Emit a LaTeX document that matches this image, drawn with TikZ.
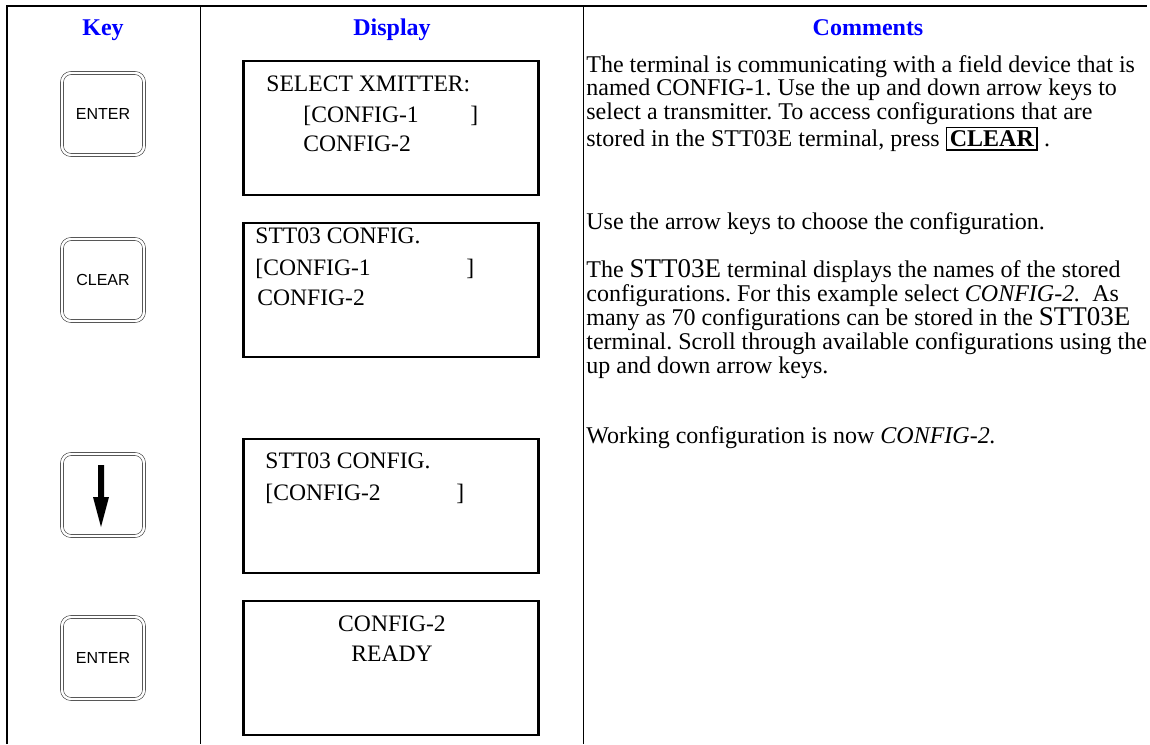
\documentclass[tikz,border=0pt]{standalone}
\usepackage{fontspec}
\setmainfont{Liberation Serif}
\newfontfamily\keyfont{Liberation Sans}
\usetikzlibrary{positioning}
\definecolor{hdrblue}{RGB}{0,0,255}
\newcommand{\boxedkey}[1]{{\setlength\fboxrule{0.9pt}\setlength\fboxsep{1.2pt}\fbox{\bfseries #1}}}
\newcommand{\bigname}[1]{{\fontsize{13.5}{11}\selectfont #1}}
\frenchspacing

\begin{document}
\begin{tikzpicture}[x=0.5pt,y=-0.5pt,
  hdr/.style={font=\bfseries\fontsize{12}{14}\selectfont,text=hdrblue,inner sep=0,anchor=base},
  keycap/.style={draw=black!75,line width=0.3pt,double=white,double distance=1.2pt,
    rounded corners=4.5pt,minimum width=41pt,minimum height=41pt,
    font=\keyfont\fontsize{8}{9}\selectfont,inner sep=0},
  lcd/.style={draw,line width=1.3pt,minimum width=147.5pt,minimum height=67pt,inner sep=0},
  lcdtxt/.style={font=\fontsize{11.8}{14}\selectfont,anchor=base west,inner sep=0},
  note/.style={font=\fontsize{12}{11.75}\selectfont,align=left,anchor=north west,inner sep=0}]

\useasboundingbox (0,0) rectangle (1150,744);

% Tabelle
\draw[line width=0.9pt] (7,744) -- (7,6) -- (1147,6);
\draw[line width=0.5pt] (200,6) -- (200,744);
\draw[line width=0.5pt] (583,6) -- (583,744);

% Kopfzeile
\node[hdr] (hkey) at (103,35) {Key};
\node[hdr] (hdisp) at (392,35) {Display};
\node[hdr] (hcom) at (868,35) {Comments};

% Tasten
\node[keycap] (key1) at (103,114) {ENTER};
\node[keycap] (key2) at (103,280) {CLEAR};
\node[keycap] (key3) at (103,495) {};
\node[keycap] (key4) at (103,658) {ENTER};

% Pfeil auf Taste 3
\fill (98,465) -- (104,465) -- (104,497) -- (109,497) -- (101,527) -- (93,497) -- (98,497) -- cycle;

% Anzeigen
\node[lcd] (lcd1) at (391,128) {};
\node[lcd] (lcd2) at (391,290) {};
\node[lcd] (lcd3) at (391,506) {};
\node[lcd] (lcd4) at (391,668) {};

\node[lcdtxt] (l1a) at (266,91) {SELECT XMITTER:};
\node[lcdtxt] (l1b) at (303,122) {[CONFIG-1};
\node[lcdtxt] (l1c) at (470,122) {]};
\node[lcdtxt] (l1d) at (303,151) {CONFIG-2};

\node[lcdtxt] (l2a) at (255,243) {STT03 CONFIG.};
\node[lcdtxt] (l2b) at (255,275) {[CONFIG-1};
\node[lcdtxt] (l2c) at (466,275) {]};
\node[lcdtxt] (l2d) at (257,305) {CONFIG-2};

\node[lcdtxt] (l3a) at (265,468) {STT03 CONFIG.};
\node[lcdtxt] (l3b) at (265,500) {[CONFIG-2};
\node[lcdtxt] (l3c) at (456,500) {]};

\node[lcdtxt,anchor=base] (l4a) at (392,631) {CONFIG-2};
\node[lcdtxt,anchor=base] (l4b) at (392,661) {READY};

% Kommentare
\node[note] (c1) at (586,54) {\rule{0pt}{9pt}The terminal is communicating with a field device that is\\
named CONFIG-1. Use the up and down arrow keys to\\
select a transmitter. To access configurations that are\\
stored in the STT03E terminal, press \boxedkey{CLEAR} .};

\node[note] (c2) at (586,211) {\rule{0pt}{9pt}Use the arrow keys to choose the configuration.};

\node[note,font=\fontsize{12}{12}\selectfont] (c3) at (586,259) {\rule{0pt}{9pt}The \bigname{STT03E} terminal displays the names of the stored\\
configurations. For this example select \textit{CONFIG-2.}\ \ As\\
many as 70 configurations can be stored in the \bigname{STT03E}\\
terminal. Scroll through available configurations using the\\
up and down arrow keys.};

\node[note] (c4) at (586,425) {\rule{0pt}{9pt}Working configuration is now \textit{CONFIG-2.}};

\end{tikzpicture}
\end{document}
